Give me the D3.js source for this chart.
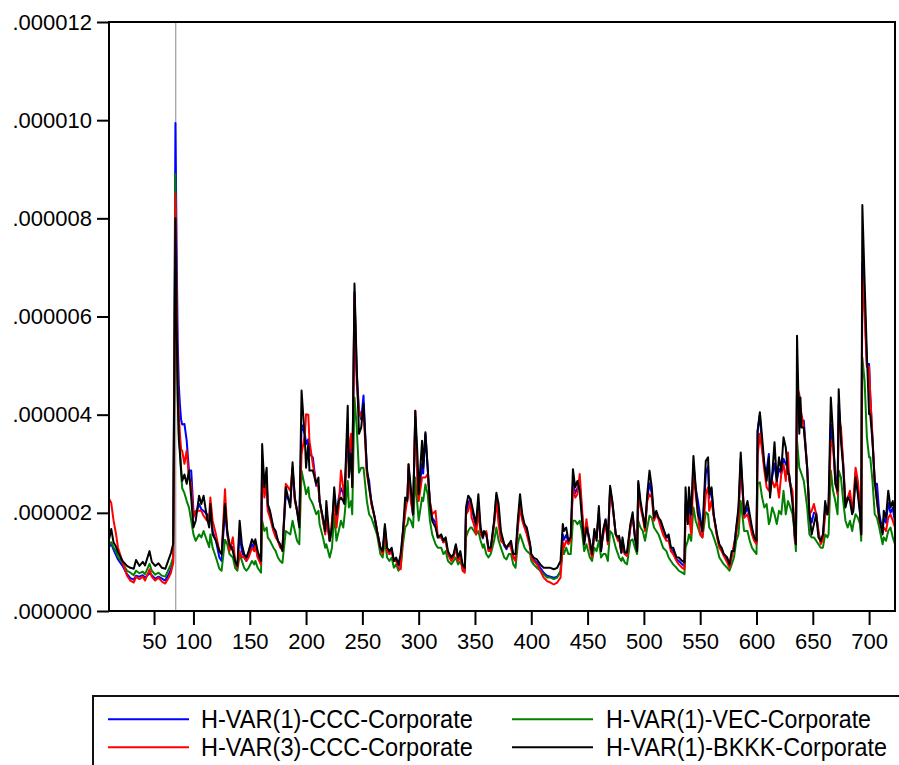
<!DOCTYPE html>
<html>
<head>
<meta charset="utf-8">
<script src="https://cdn.jsdelivr.net/npm/d3@7"></script>
<style>
  body { margin: 0; background: #ffffff; }
  svg { display: block; }
</style>
</head>
<body>
<svg id="chart" width="899" height="765"></svg>
<script>
// ---- Data (values in millionths) ----
const obs = [
  25,27,29,31,33,37,41,44,47,49,
  52,55,57,61,63,66,69,72,75,78,
  80,82,84,85,86,87,88,89,90,92,
  94,96,98,100,102,105,107,109,112,114,
  115,117,120,123,125,128,130,132,135,137,
  139,141,143,145,147,149,152,154,155,157,
  160,161,163,165,166,168,171,173,175,177,
  179,182,186,188,190,192,194,196,199,200,
  202,203,206,209,211,212,215,217,218,221,
  223,225,227,229,231,233,234,237,238,240,
  241,243,245,247,249,251,254,256,258,261,
  263,266,268,270,272,274,276,278,280,282,
  284,286,288,290,291,293,295,297,299,300,
  303,304,306,308,310,312,315,317,320,322,
  324,326,329,331,333,335,337,339,341,342,
  344,346,347,349,351,353,355,357,358,360,
  362,364,367,369,371,373,376,378,380,382,
  384,386,388,390,392,394,396,399,400,402,
  405,408,411,414,417,420,423,426,428,429,
  431,433,435,437,439,441,443,445,447,449,
  452,454,456,458,460,462,464,466,468,470,
  472,475,477,478,480,481,483,485,488,490,
  492,494,495,497,499,501,503,505,507,509,
  511,513,515,517,520,522,524,526,529,531,
  534,536,537,539,540,542,544,546,548,550,
  552,555,557,558,560,562,565,567,569,571,
  574,576,578,580,582,584,586,588,589,592,
  594,596,598,600,601,603,605,607,609,611,
  612,614,616,618,620,622,624,626,628,629,
  632,634,635,636,638,639,640,642,645,647,
  649,651,653,655,657,659,661,663,664,666,
  668,670,672,673,675,677,679,681,683,685,
  686,688,690,692,693,694,696,698,700,701,
  703,705,707,709,712,713,715,717,719,721,723
];

// H-VAR(1)-CCC-Corporate (blue)
const hvar1Ccc = [
  1.30,1.37,1.25,1.15,1.05,0.92,0.75,0.67,0.64,0.72,
  0.70,0.73,0.68,0.77,0.73,0.66,0.70,0.66,0.62,0.75,
  0.85,1.00,9.94,7.50,5.50,4.60,4.20,3.90,3.80,3.81,
  3.47,2.86,2.86,2.04,1.97,2.18,2.07,2.04,1.97,1.90,
  2.04,1.63,1.43,1.09,1.02,2.10,1.56,1.33,1.30,0.95,
  0.90,1.56,1.22,1.09,1.02,1.12,1.36,1.29,1.36,1.12,
  0.95,3.10,2.59,2.72,2.10,1.97,1.66,1.56,1.43,1.33,
  1.26,2.38,2.20,2.90,2.30,2.04,1.77,3.80,3.60,3.40,
  3.50,3.20,3.13,2.55,2.55,2.24,1.86,1.60,1.95,1.43,
  1.70,2.38,1.90,2.30,2.50,2.40,2.20,3.80,3.00,3.40,
  2.60,6.50,4.83,4.10,3.90,4.39,2.85,2.65,2.20,1.90,
  1.63,1.29,1.20,1.70,1.25,1.16,1.25,1.02,1.05,0.90,
  1.00,1.60,2.10,2.30,2.90,2.40,1.95,3.95,2.80,2.30,
  3.00,2.80,3.61,2.90,2.20,1.90,1.80,1.50,1.52,1.40,
  1.46,1.16,1.05,1.10,1.33,1.05,1.16,0.88,0.82,1.95,
  2.20,2.28,2.10,1.90,1.70,2.20,1.65,1.48,1.60,1.60,
  1.25,1.25,1.80,2.35,2.00,1.55,1.33,1.26,1.36,1.36,
  1.10,1.05,1.75,2.20,1.90,1.72,1.65,1.33,1.12,1.05,
  0.98,0.88,0.78,0.72,0.70,0.68,0.70,0.80,1.56,1.45,
  1.55,1.40,1.45,2.60,2.40,2.50,2.60,2.00,1.40,1.80,
  1.40,1.12,1.60,1.50,2.00,1.25,1.62,1.85,1.40,2.50,
  2.20,1.56,1.48,1.50,1.19,1.45,1.16,1.14,1.72,1.95,
  1.52,1.25,2.60,2.15,1.95,1.68,2.30,2.60,2.40,1.90,
  2.00,1.90,1.80,1.65,1.50,1.50,1.26,1.22,1.05,1.02,
  0.95,0.92,2.20,1.80,2.20,1.80,3.00,2.50,2.24,1.94,
  1.56,2.80,2.95,2.30,2.50,1.95,1.53,1.33,1.25,1.14,
  1.04,0.92,1.16,1.30,1.68,2.00,3.10,2.35,1.95,2.10,
  1.90,1.65,1.48,1.40,3.67,4.00,3.33,2.92,2.86,3.20,
  2.40,2.75,3.00,2.65,2.90,2.80,3.10,3.00,2.90,2.75,
  2.30,1.50,1.36,4.56,4.15,4.10,3.88,3.88,2.92,1.97,
  1.80,2.00,2.00,1.60,1.40,1.50,2.10,1.97,2.10,3.80,
  3.40,2.79,2.40,4.20,3.60,3.00,2.15,2.30,2.35,2.00,
  2.10,2.80,2.50,2.00,1.56,7.10,6.30,5.03,5.03,4.40,
  3.50,2.59,2.59,2.00,1.60,1.90,1.80,2.20,2.00,2.10,1.80
];

// H-VAR(3)-CCC-Corporate (red)
const hvar3Ccc = [
  2.29,2.20,1.85,1.60,1.29,1.00,0.72,0.62,0.58,0.70,
  0.65,0.70,0.62,0.85,0.70,0.62,0.68,0.60,0.56,0.68,
  0.78,0.98,8.50,6.50,4.80,4.00,3.60,3.30,3.26,3.00,
  3.27,2.72,2.59,1.90,2.04,2.04,2.04,1.94,1.84,1.97,
  2.31,1.84,1.56,1.22,1.16,2.48,1.63,1.22,1.50,1.02,
  0.88,1.22,1.09,1.12,1.02,1.09,1.29,1.22,1.33,1.09,
  0.95,2.99,2.31,2.59,2.04,1.90,1.63,1.50,1.43,1.29,
  1.26,2.59,2.45,2.92,2.24,2.04,1.84,3.20,3.60,4.01,
  4.00,3.47,2.99,2.59,2.52,2.24,1.84,1.56,1.90,1.43,
  1.84,2.24,1.70,2.11,2.86,2.52,2.24,3.61,3.27,3.61,
  2.52,6.45,4.63,4.08,3.95,4.08,2.79,2.52,2.18,1.90,
  1.63,1.29,1.16,1.63,1.22,1.16,1.22,1.02,1.02,0.88,
  0.85,1.56,1.97,2.31,2.99,2.24,1.97,4.08,2.52,2.24,
  2.72,2.72,2.72,2.79,2.24,1.97,2.04,1.50,1.50,1.40,
  1.43,1.16,1.02,1.09,1.29,1.02,1.12,0.82,0.78,1.97,
  2.04,2.24,1.90,1.77,1.56,2.04,1.56,1.50,1.56,1.63,
  1.22,1.22,1.77,2.24,1.77,1.43,1.36,1.29,1.36,1.29,
  1.09,1.02,1.67,2.11,1.84,1.70,1.56,1.29,1.09,1.02,
  0.95,0.82,0.68,0.61,0.58,0.54,0.58,0.68,1.40,1.29,
  1.43,1.36,1.43,2.52,2.31,2.38,2.79,2.11,1.43,1.87,
  1.29,1.09,1.56,1.56,1.97,1.29,1.56,1.84,1.36,2.45,
  2.18,1.56,1.43,1.46,1.19,1.40,1.16,1.12,1.70,1.90,
  1.56,1.29,2.52,2.11,1.90,1.63,2.24,2.38,2.31,1.84,
  1.97,1.87,1.70,1.56,1.43,1.43,1.22,1.16,1.02,0.95,
  0.88,0.85,1.97,1.84,1.97,1.56,2.79,2.38,1.97,1.56,
  1.50,2.38,2.52,2.04,2.24,1.94,1.50,1.29,1.22,1.12,
  0.99,0.88,1.09,1.36,1.56,1.90,2.99,2.31,1.90,1.97,
  1.77,1.56,1.43,1.36,3.16,3.61,3.27,2.86,2.52,2.45,
  2.59,2.65,2.52,2.65,2.31,2.79,2.99,2.65,3.23,2.65,
  2.45,1.43,1.36,4.56,4.42,4.15,4.01,3.74,2.92,1.97,
  2.04,2.18,1.97,1.63,1.36,1.46,1.97,1.97,2.04,3.47,
  3.33,2.65,2.38,3.88,3.74,3.00,2.24,2.31,2.45,2.04,
  2.24,2.92,2.65,2.11,1.56,6.90,6.05,4.97,4.97,4.42,
  3.54,2.65,2.24,1.84,1.63,1.70,1.63,1.90,1.97,1.84,1.70
];

// H-VAR(1)-VEC-Corporate (green)
const hvar1Vec = [
  1.35,1.40,1.30,1.22,1.10,0.98,0.82,0.78,0.73,0.82,
  0.77,0.80,0.75,0.96,0.82,0.74,0.78,0.72,0.70,0.85,
  0.95,1.10,8.90,6.00,4.30,3.60,3.30,2.80,2.50,2.40,
  2.24,2.11,1.84,1.56,1.43,1.56,1.50,1.63,1.43,1.30,
  1.56,1.29,1.09,0.86,0.82,1.45,1.36,1.16,1.09,0.88,
  0.82,1.16,1.02,0.88,0.82,0.88,1.02,0.95,1.02,0.88,
  0.78,1.84,1.63,1.70,1.50,1.43,1.29,1.22,1.09,1.02,
  0.98,1.63,1.56,1.84,1.63,1.43,1.36,2.86,2.52,2.38,
  2.52,2.31,2.18,1.97,2.04,1.77,1.50,1.29,1.36,1.09,
  1.29,1.97,1.43,1.63,1.84,1.70,1.90,2.65,2.11,2.24,
  1.97,4.35,3.74,2.82,2.92,2.92,2.24,1.97,1.90,1.70,
  1.56,1.16,1.09,1.43,1.09,1.02,1.09,0.88,0.95,0.82,
  0.88,1.36,1.70,1.77,1.90,1.84,1.70,2.72,2.11,1.84,
  2.31,2.24,2.58,2.38,1.84,1.56,1.36,1.29,1.29,1.16,
  1.22,1.02,0.95,1.02,1.09,0.95,1.02,0.88,0.85,1.50,
  1.63,1.70,1.70,1.63,1.56,1.63,1.43,1.29,1.36,1.16,
  1.09,1.16,1.43,1.70,1.43,1.29,1.09,1.05,1.16,1.16,
  0.95,0.88,1.36,1.56,1.43,1.29,1.22,1.16,1.02,0.95,
  0.88,0.82,0.75,0.68,0.68,0.65,0.68,0.82,1.29,1.16,
  1.29,1.16,1.16,1.84,1.84,1.77,1.84,1.63,1.22,1.36,
  1.09,1.02,1.29,1.22,1.43,1.09,1.16,1.16,1.02,1.63,
  1.57,1.29,1.16,1.09,1.02,1.09,0.99,0.95,1.43,1.46,
  1.29,1.16,1.84,1.70,1.63,1.43,1.70,1.94,1.90,1.70,
  1.63,1.56,1.43,1.29,1.22,1.09,1.02,0.95,0.88,0.82,
  0.78,0.75,1.29,1.43,1.56,1.43,2.11,1.84,1.70,1.56,
  1.50,2.01,1.97,1.70,1.63,1.50,1.29,1.09,1.02,0.95,
  0.88,0.82,0.95,1.09,1.43,1.56,2.24,1.84,1.63,1.63,
  1.43,1.29,1.22,1.16,2.59,2.62,2.31,2.11,2.18,1.77,
  1.84,2.11,1.97,1.77,2.04,1.97,2.45,1.97,2.24,2.18,
  1.97,1.56,1.22,3.47,2.92,2.86,2.79,2.65,2.11,1.56,
  1.50,1.50,1.43,1.36,1.29,1.29,1.56,1.50,1.56,2.86,
  2.45,2.24,1.97,2.86,2.72,2.24,1.84,1.70,1.84,1.63,
  1.77,1.97,1.90,1.77,1.43,5.17,4.69,3.55,3.13,3.13,
  2.65,1.97,1.90,1.70,1.36,1.50,1.43,1.63,1.70,1.50,1.36
];

// H-VAR(1)-BKKK-Corporate (black)
const hvar1Bkkk = [
  1.45,1.67,1.40,1.32,1.20,1.02,0.92,0.88,0.86,1.04,
  0.92,1.00,0.93,1.22,1.00,0.92,0.97,0.88,0.86,1.05,
  1.18,1.37,8.00,5.90,4.50,3.50,3.20,2.90,2.65,2.78,
  2.59,2.86,2.31,1.70,1.84,2.35,2.18,2.35,1.90,1.70,
  2.18,1.56,1.43,1.22,1.16,2.18,1.63,1.36,1.22,1.02,
  0.92,1.84,1.36,1.16,1.09,1.22,1.46,1.36,1.46,1.22,
  1.02,3.40,2.52,2.92,2.18,2.04,1.70,1.63,1.43,1.36,
  1.22,2.52,2.11,3.03,2.31,2.04,1.70,4.49,3.47,2.92,
  3.40,2.86,2.86,2.59,2.72,2.24,1.90,1.63,2.24,1.43,
  1.70,2.52,1.97,2.24,2.31,2.24,2.18,4.18,2.72,3.20,
  2.52,6.67,4.97,3.61,3.74,4.22,2.92,2.52,2.24,1.90,
  1.63,1.29,1.22,1.77,1.29,1.22,1.29,1.02,1.09,0.95,
  1.16,1.63,2.31,2.24,2.99,2.52,1.97,4.08,3.13,2.38,
  3.47,2.92,3.64,2.92,2.18,1.84,1.70,1.50,1.56,1.43,
  1.50,1.22,1.09,1.16,1.36,1.09,1.22,0.95,0.88,2.11,
  2.35,2.28,2.18,1.97,1.77,2.38,1.70,1.50,1.63,1.56,
  1.29,1.29,1.84,2.41,2.18,1.63,1.36,1.29,1.36,1.43,
  1.16,1.16,1.84,2.38,1.97,1.77,1.70,1.36,1.16,1.09,
  1.05,0.95,0.88,0.88,0.88,0.85,0.88,1.02,1.77,1.63,
  1.70,1.43,1.50,2.89,2.52,2.65,2.45,1.87,1.36,1.70,
  1.43,1.16,1.67,1.43,2.14,1.22,1.67,1.87,1.43,2.55,
  2.24,1.56,1.50,1.53,1.19,1.50,1.19,1.19,1.77,2.01,
  1.50,1.22,2.65,2.24,1.97,1.70,2.38,2.86,2.52,1.90,
  2.04,1.90,1.84,1.70,1.50,1.56,1.29,1.29,1.09,1.09,
  1.02,0.99,2.52,1.77,2.52,1.97,3.16,2.52,1.97,1.84,
  1.63,3.06,3.13,2.38,2.52,1.97,1.56,1.36,1.29,1.16,
  1.09,0.95,1.22,1.22,1.70,2.11,3.23,2.38,1.97,2.24,
  1.97,1.70,1.50,1.43,3.67,4.05,3.54,2.99,2.65,3.13,
  2.31,2.79,3.44,2.65,3.13,2.86,3.54,3.33,2.79,2.79,
  2.18,1.56,1.36,5.61,3.61,4.35,3.74,3.74,2.92,1.97,
  1.56,1.77,1.97,1.50,1.43,1.56,2.24,1.97,2.18,4.35,
  3.61,2.59,2.45,4.52,3.47,2.92,2.11,2.31,2.24,1.97,
  2.04,2.72,2.38,1.97,1.56,8.27,6.73,5.24,4.01,4.01,
  3.47,2.65,2.24,1.90,1.56,2.04,1.90,2.45,2.11,2.24,1.90
];

const seriesNames = [
  "H-VAR(1)-CCC-Corporate",
  "H-VAR(1)-VEC-Corporate",
  "H-VAR(3)-CCC-Corporate",
  "H-VAR(1)-BKKK-Corporate"
];

const yTickValues = [0, 2, 4, 6, 8, 10, 12];
const yTickLabels = [".000000", ".000002", ".000004", ".000006", ".000008", ".000010", ".000012"];
const xTickValues = [65, 100, 150, 200, 250, 300, 350, 400, 450, 500, 550, 600, 650, 700];
const xTickLabels = ["50", "100", "150", "200", "250", "300", "350", "400", "450", "500", "550", "600", "650", "700"];
const obsDomain = [25, 723];
const sampleBreak = 84.3;

// ---- Styling / layout ----
const seriesValues = [hvar1Ccc, hvar1Vec, hvar3Ccc, hvar1Bkkk];
const seriesColors = ["#0000ff", "#008000", "#ff0000", "#000000"];
const FONT = "'Liberation Sans', Arial, Helvetica, sans-serif";
const plot = { left: 109, right: 895, top: 22, bottom: 611 };

[hvar1Ccc, hvar3Ccc, hvar1Vec, hvar1Bkkk].forEach((s, i) => {
  if (s.length !== obs.length) console.warn("length mismatch", i, s.length, obs.length);
});

const svg = d3.select("#chart");
svg.append("rect").attr("width", 899).attr("height", 765).attr("fill", "#fff");

const x = d3.scaleLinear().domain(obsDomain).range([plot.left, plot.right]);
const y = d3.scaleLinear().domain([0, 12]).range([plot.bottom, plot.top]);

svg.append("defs").append("clipPath").attr("id", "plotclip")
  .append("rect")
  .attr("x", plot.left).attr("y", plot.top - 1)
  .attr("width", plot.right - plot.left).attr("height", plot.bottom - plot.top + 1);

// sample-break line
svg.append("line")
  .attr("x1", x(sampleBreak)).attr("x2", x(sampleBreak))
  .attr("y1", plot.top).attr("y2", plot.bottom)
  .attr("stroke", "#8a8a8a").attr("stroke-width", 1);

// series
const line = d3.line()
  .x((d, i) => x(obs[i]))
  .y(d => y(d));

const gLines = svg.append("g").attr("clip-path", "url(#plotclip)");
seriesValues.forEach((vals, k) => {
  gLines.append("path")
    .datum(vals)
    .attr("d", line)
    .attr("fill", "none")
    .attr("stroke", seriesColors[k])
    .attr("stroke-width", 2)
    .attr("stroke-linejoin", "round");
});

// frame
svg.append("rect")
  .attr("x", plot.left).attr("y", plot.top)
  .attr("width", plot.right - plot.left).attr("height", plot.bottom - plot.top)
  .attr("fill", "none").attr("stroke", "#000").attr("stroke-width", 2);

// y axis
const yAxis = d3.axisLeft(y)
  .tickValues(yTickValues)
  .tickFormat((d, i) => yTickLabels[i])
  .tickSize(12)
  .tickPadding(5);
const gy = svg.append("g").attr("transform", `translate(${plot.left},0)`).call(yAxis);
gy.select(".domain").remove();
gy.selectAll(".tick line").attr("stroke", "#000").attr("stroke-width", 2);
gy.selectAll(".tick text")
  .attr("fill", "#000")
  .style("font-family", FONT)
  .style("font-size", "22px");

// x axis
const xAxis = d3.axisBottom(x)
  .tickValues(xTickValues)
  .tickFormat((d, i) => xTickLabels[i])
  .tickSize(14)
  .tickPadding(8);
const gx = svg.append("g").attr("transform", `translate(0,${plot.bottom})`).call(xAxis);
gx.select(".domain").remove();
gx.selectAll(".tick line").attr("stroke", "#000").attr("stroke-width", 2);
gx.selectAll(".tick text")
  .attr("fill", "#000")
  .style("font-family", FONT)
  .style("font-size", "22px");

// legend
const legend = svg.append("g");
legend.append("rect")
  .attr("x", 93).attr("y", 696)
  .attr("width", 900).attr("height", 120)
  .attr("fill", "#fff").attr("stroke", "#111").attr("stroke-width", 2);

const legendPos = [
  { lx: 108, tx: 201, ly: 719.3, w: 272 },
  { lx: 512, tx: 606, ly: 719.3, w: 265 },
  { lx: 108, tx: 201, ly: 747.3, w: 272 },
  { lx: 512, tx: 606, ly: 747.3, w: 281 }
];
seriesNames.forEach((name, k) => {
  const p = legendPos[k];
  legend.append("line")
    .attr("x1", p.lx).attr("x2", p.lx + 81)
    .attr("y1", p.ly).attr("y2", p.ly)
    .attr("stroke", seriesColors[k]).attr("stroke-width", 2);
  const t = legend.append("text")
    .attr("x", 0).attr("y", 0)
    .style("font-family", FONT)
    .style("font-size", "25px")
    .attr("fill", "#000")
    .text(name);
  const natural = t.node().getComputedTextLength() || p.w;
  const sx = p.w / natural;
  t.attr("transform", `translate(${p.tx},${p.ly + 8.5}) scale(${sx},1)`);
});
</script>
</body>
</html>
